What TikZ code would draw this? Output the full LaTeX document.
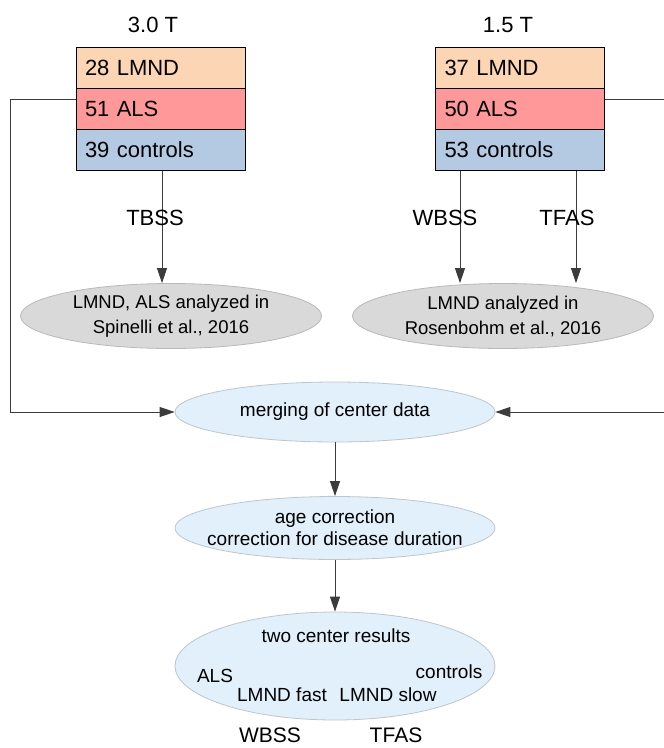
\documentclass[tikz,border=0pt]{standalone}
\usepackage{fontspec}
\setmainfont{Liberation Sans}
\usetikzlibrary{shapes.geometric,arrows.meta}
\definecolor{peach}{RGB}{252,213,180}
\definecolor{rosered}{RGB}{255,153,153}
\definecolor{paleblue}{RGB}{180,202,226}
\definecolor{ellgray}{RGB}{217,217,217}
\definecolor{ellgrayb}{RGB}{185,185,185}
\definecolor{ellblue}{RGB}{225,240,250}
\definecolor{ellblueb}{RGB}{190,198,204}
\definecolor{linegray}{RGB}{60,60,60}
\newcommand\bxf{\fontsize{22}{26}\selectfont}
\newcommand\elf{\fontsize{18.5}{25}\selectfont}
\newcommand\lwf{\fontsize{19}{22}\selectfont}
\tikzset{
  cell/.style={draw=black, line width=1pt, minimum height=41pt, text width=151pt,
    inner xsep=9pt, inner ysep=0pt, align=left, font=\bxf},
  grayell/.style={ellipse, draw=ellgrayb, line width=0.8pt, fill=ellgray, minimum width=301pt,
    minimum height=65pt, inner xsep=-20pt, inner ysep=0pt, align=center, font=\elf},
  blueell/.style={ellipse, draw=ellblueb, line width=0.8pt, fill=ellblue, minimum width=320pt,
    inner xsep=-25pt, inner ysep=0pt, align=center, font=\lwf},
  conn/.style={draw=linegray, line width=1pt},
  arr/.style={conn, -{Triangle[length=15pt,width=10pt]}},
  lbl/.style={font=\bxf, inner sep=0pt},
  inlbl/.style={font=\lwf, inner sep=0pt}
}
\begin{document}
\begin{tikzpicture}[x=1pt,y=-1pt]
\useasboundingbox (0,0) rectangle (664,748);
\clip (0,0) rectangle (664,748);
\fill[white] (0,0) rectangle (664,748);

% titles
\node[lbl] (t1) at (153,25) {3.0 T};
\node[lbl] (t2) at (508,25) {1.5 T};

% left box
\node[cell, fill=peach] (l1) at (160.5,67.5) {28 LMND};
\node[cell, fill=rosered] (l2) at (160.5,108.5) {51 ALS};
\node[cell, fill=paleblue] (l3) at (160.5,149.5) {39 controls};

% right box
\node[cell, fill=peach] (r1) at (520,67.5) {37 LMND};
\node[cell, fill=rosered] (r2) at (520,108.5) {50 ALS};
\node[cell, fill=paleblue] (r3) at (520,149.5) {53 controls};

% gray ellipses
\node[grayell] (g1) at (171,316) {LMND, ALS analyzed in\\Spinelli et al., 2016};
\node[grayell] (g2) at (503,316) {LMND analyzed in\\Rosenbohm et al., 2016};

% arrows to gray ellipses
\draw[arr] ([xshift=1.5pt]l3.south) -- ([xshift=1.5pt]l3.south |- g1.north);
\draw[arr] ([xshift=-60pt]r3.south) -- ([xshift=-60pt]r3.south |- g2.north);
\draw[arr] ([xshift=56pt]r3.south) -- ([xshift=56pt]r3.south |- g2.north);

% method labels
\node[lbl] (tbss) at (155,218) {TBSS};
\node[lbl] (wbss1) at (445,218) {WBSS};
\node[lbl] (tfas1) at (567,218) {TFAS};

% lower ellipses
\node[blueell, minimum height=60pt] (m) at (335,412) {merging of center data};
\node[blueell, minimum height=63pt] (a) at (335,528) {age correction\\correction for disease duration};
\node[blueell, minimum height=108pt] (res) at (335,666) {};

\node[inlbl] (rtitle) at (336,636) {two center results};
\node[inlbl] (rals) at (215,676) {ALS};
\node[inlbl] (rctl) at (449,672) {controls};
\node[inlbl] (rfast) at (282,695) {LMND fast};
\node[inlbl] (rslow) at (388,695) {LMND slow};

\node[font=\fontsize{21}{24}\selectfont, inner sep=0pt] (wbss2) at (270,735) {WBSS};
\node[font=\fontsize{21}{24}\selectfont, inner sep=0pt] (tfas2) at (396,735) {TFAS};

% side connectors
\coordinate (lc1) at (10,99);
\coordinate (lc2) at (10,412);
\coordinate (rc1) at (672,99);
\coordinate (rc2) at (672,412);
\draw[arr] ([yshift=9.5pt]l2.west) -- (lc1) -- (lc2) -- (m.west);
\draw[arr] ([yshift=9.5pt]r2.east) -- (rc1) -- (rc2) -- (m.east);

% vertical flow
\draw[arr] (m.south) -- (a.north);
\draw[arr] (a.south) -- (res.north);
\end{tikzpicture}
\end{document}
